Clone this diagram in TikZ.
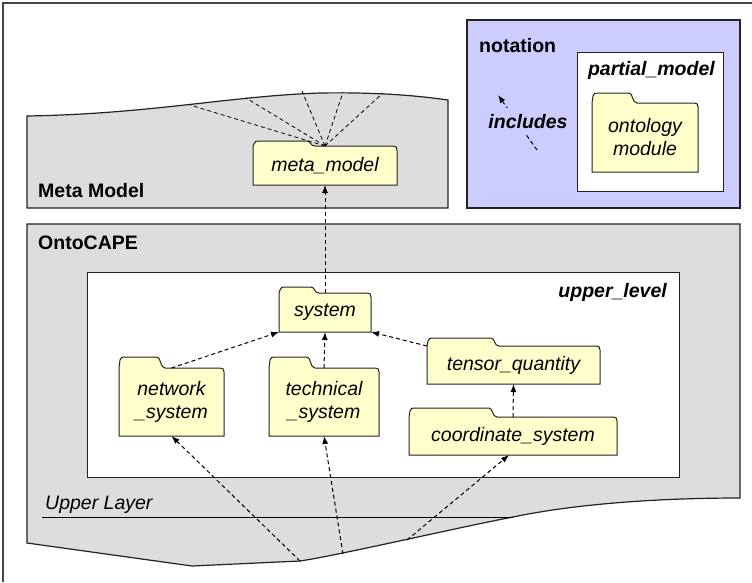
\documentclass[tikz,border=0pt]{standalone}
\usepackage{fontspec}
\setmainfont{Liberation Sans}
\usetikzlibrary{arrows.meta,calc}
\pgfdeclarelayer{back}
\pgfdeclarelayer{mid}
\pgfsetlayers{back,mid,main}
\definecolor{folderfill}{HTML}{FFFFCC}
\definecolor{graybg}{HTML}{DDDDDD}
\definecolor{lav}{HTML}{CCCCFF}
\definecolor{edgecol}{HTML}{222222}
\definecolor{framecol}{HTML}{444444}

\tikzset{
  region/.style={draw=edgecol, line width=1.2pt, line join=miter},
  folderline/.style={draw=edgecol, line width=1pt, fill=folderfill},
  folder/.style={inner sep=0pt, outer sep=0pt, align=center,
    font=\fontsize{19.5}{23}\selectfont\itshape},
  lbl/.style={inner sep=0pt, font=\fontsize{19.5}{23}\selectfont},
  dep/.style={draw=black, line width=1pt, dash pattern=on 4pt off 3pt,
    -{Latex[length=8pt,width=6pt]}},
  fan/.style={draw=black, line width=0.8pt, dash pattern=on 4pt off 3pt}
}

\newcommand\foldertab[3]{%
  \begin{pgfonlayer}{mid}
  \draw[folderline]
    (#1.south west) -- (#1.north west)
    -- ($(#1.north west)+(1,-#3+3)$)
    .. controls ($(#1.north west)+(2,-#3)$) and ($(#1.north west)+(3,-#3)$) .. ($(#1.north west)+(6,-#3)$)
    -- ($(#1.north west)+(#2-6,-#3)$)
    .. controls ($(#1.north west)+(#2-2,-#3)$) and ($(#1.north west)+(#2-3,0)$) .. ($(#1.north west)+(#2+2,0)$)
    -- ($(#1.north east)+(-4,0)$)
    .. controls ($(#1.north east)+(-1,0)$) and ($(#1.north east)+(0,1)$) .. ($(#1.north east)+(0,4)$)
    -- (#1.south east) -- cycle;
  \end{pgfonlayer}}

\begin{document}
\begin{tikzpicture}[x=1pt,y=-1pt]
\useasboundingbox (0,0) rectangle (752,582);

% ---------- background regions ----------
\begin{pgfonlayer}{back}
  \fill[white] (0,0) rectangle (752,582);
  \draw[framecol, line width=1.5pt] (3,582) -- (3,3) -- (752,3);
  % Meta Model region
  \draw[region, fill=graybg] (27,116) .. controls (150,114) and (230,96) .. (320,93)
     .. controls (380,92) and (420,96) .. (448,100) -- (448,208) -- (27,208) -- cycle;
  % OntoCAPE region
  \draw[region, fill=graybg] (27,224) -- (740,224) -- (740,498)
     .. controls (650,498) and (570,505) .. (513,517)
     .. controls (460,527) and (340,555) .. (300,561)
     -- (192,566) -- (27,543) -- cycle;
  \draw[region, line width=1pt, fill=white] (87,272) rectangle (679,477);
  \draw[black, line width=1pt] (42,517) -- (513,517);
  % notation
  \draw[region, fill=lav] (467,20) rectangle (740,208);
  \draw[region, line width=1pt, fill=white] (577,52) rectangle (723,191);
\end{pgfonlayer}

% ---------- free ends ----------
\coordinate (f1) at (190,105);
\coordinate (f2) at (246,98);
\coordinate (f3) at (302,91);
\coordinate (f4) at (343,92);
\coordinate (f5) at (383,93);
\coordinate (b1) at (300,561);
\coordinate (b2) at (343,554);
\coordinate (b3) at (407,540);
\coordinate (inct) at (537,150);
\coordinate (inch) at (498,95);

% ---------- folders ----------
\node[folder, minimum width=144pt, minimum height=39pt] (mm) at (325,165.5) {meta\_model};
\foldertab{mm}{60}{5}
\node[folder, minimum width=106pt, minimum height=69pt] (om) at (645,137.5) {ontology\\module};
\foldertab{om}{43}{10}
\node[folder, minimum width=92pt, minimum height=39pt] (sys) at (325,312.5) {system};
\foldertab{sys}{38}{6}
\node[folder, minimum width=105pt, minimum height=68pt] (net) at (171.5,402) {network\\\_system};
\foldertab{net}{44}{11}
\node[folder, minimum width=110pt, minimum height=68pt] (tech) at (324,402) {technical\\\_system};
\foldertab{tech}{44}{11}
\node[folder, minimum width=173pt, minimum height=38pt] (tq) at (513.5,365) {tensor\_quantity};
\foldertab{tq}{70}{8}
\node[folder, minimum width=208pt, minimum height=38pt] (cs) at (513,436) {coordinate\_system};
\foldertab{cs}{86}{9}

% ---------- labels ----------
\node[lbl, font=\fontsize{19.5}{23}\selectfont\bfseries, anchor=base west] (lmm) at (38,197) {Meta Model};
\node[lbl, font=\fontsize{19.5}{23}\selectfont\bfseries, anchor=base west] (lonto) at (38,249) {OntoCAPE};
\node[lbl, font=\fontsize{19.5}{23}\selectfont\bfseries, anchor=base west] (lnot) at (479,52) {notation};
\node[lbl, font=\fontsize{19.5}{23}\selectfont\bfseries\itshape, anchor=base east] (lpm) at (715,75) {partial\_model};
\node[lbl, font=\fontsize{19.5}{23}\selectfont\bfseries\itshape, anchor=base east] (lul) at (667,297) {upper\_level};
\node[lbl, font=\fontsize{19.5}{23}\selectfont\itshape, anchor=base west] (lup) at (45,509) {Upper Layer};

% ---------- connectors ----------
\foreach \f in {f1,f2,f3,f4,f5} \draw[fan] (mm.north) -- (\f);
\draw[dep] (sys.north) -- (mm.south);
\draw[dep] (net.north) -- (sys.south west);
\draw[dep] (tech.north) -- (sys.south);
\draw[dep] (tq.north west) -- (sys.south east);
\draw[dep] (cs.north) -- (tq.south);
\draw[dep] (b1) -- (net.south);
\draw[dep] (b2) -- (tech.south);
\draw[dep] (b3) -- ($(cs.south)+(-4,0)$);
\draw[dep] (inct) -- (inch);
\node[lbl, font=\fontsize{19.5}{23}\selectfont\bfseries\itshape, fill=lav,
      inner xsep=2pt, inner ysep=6pt] (incl) at (528,121.5) {includes};
\end{tikzpicture}
\end{document}
